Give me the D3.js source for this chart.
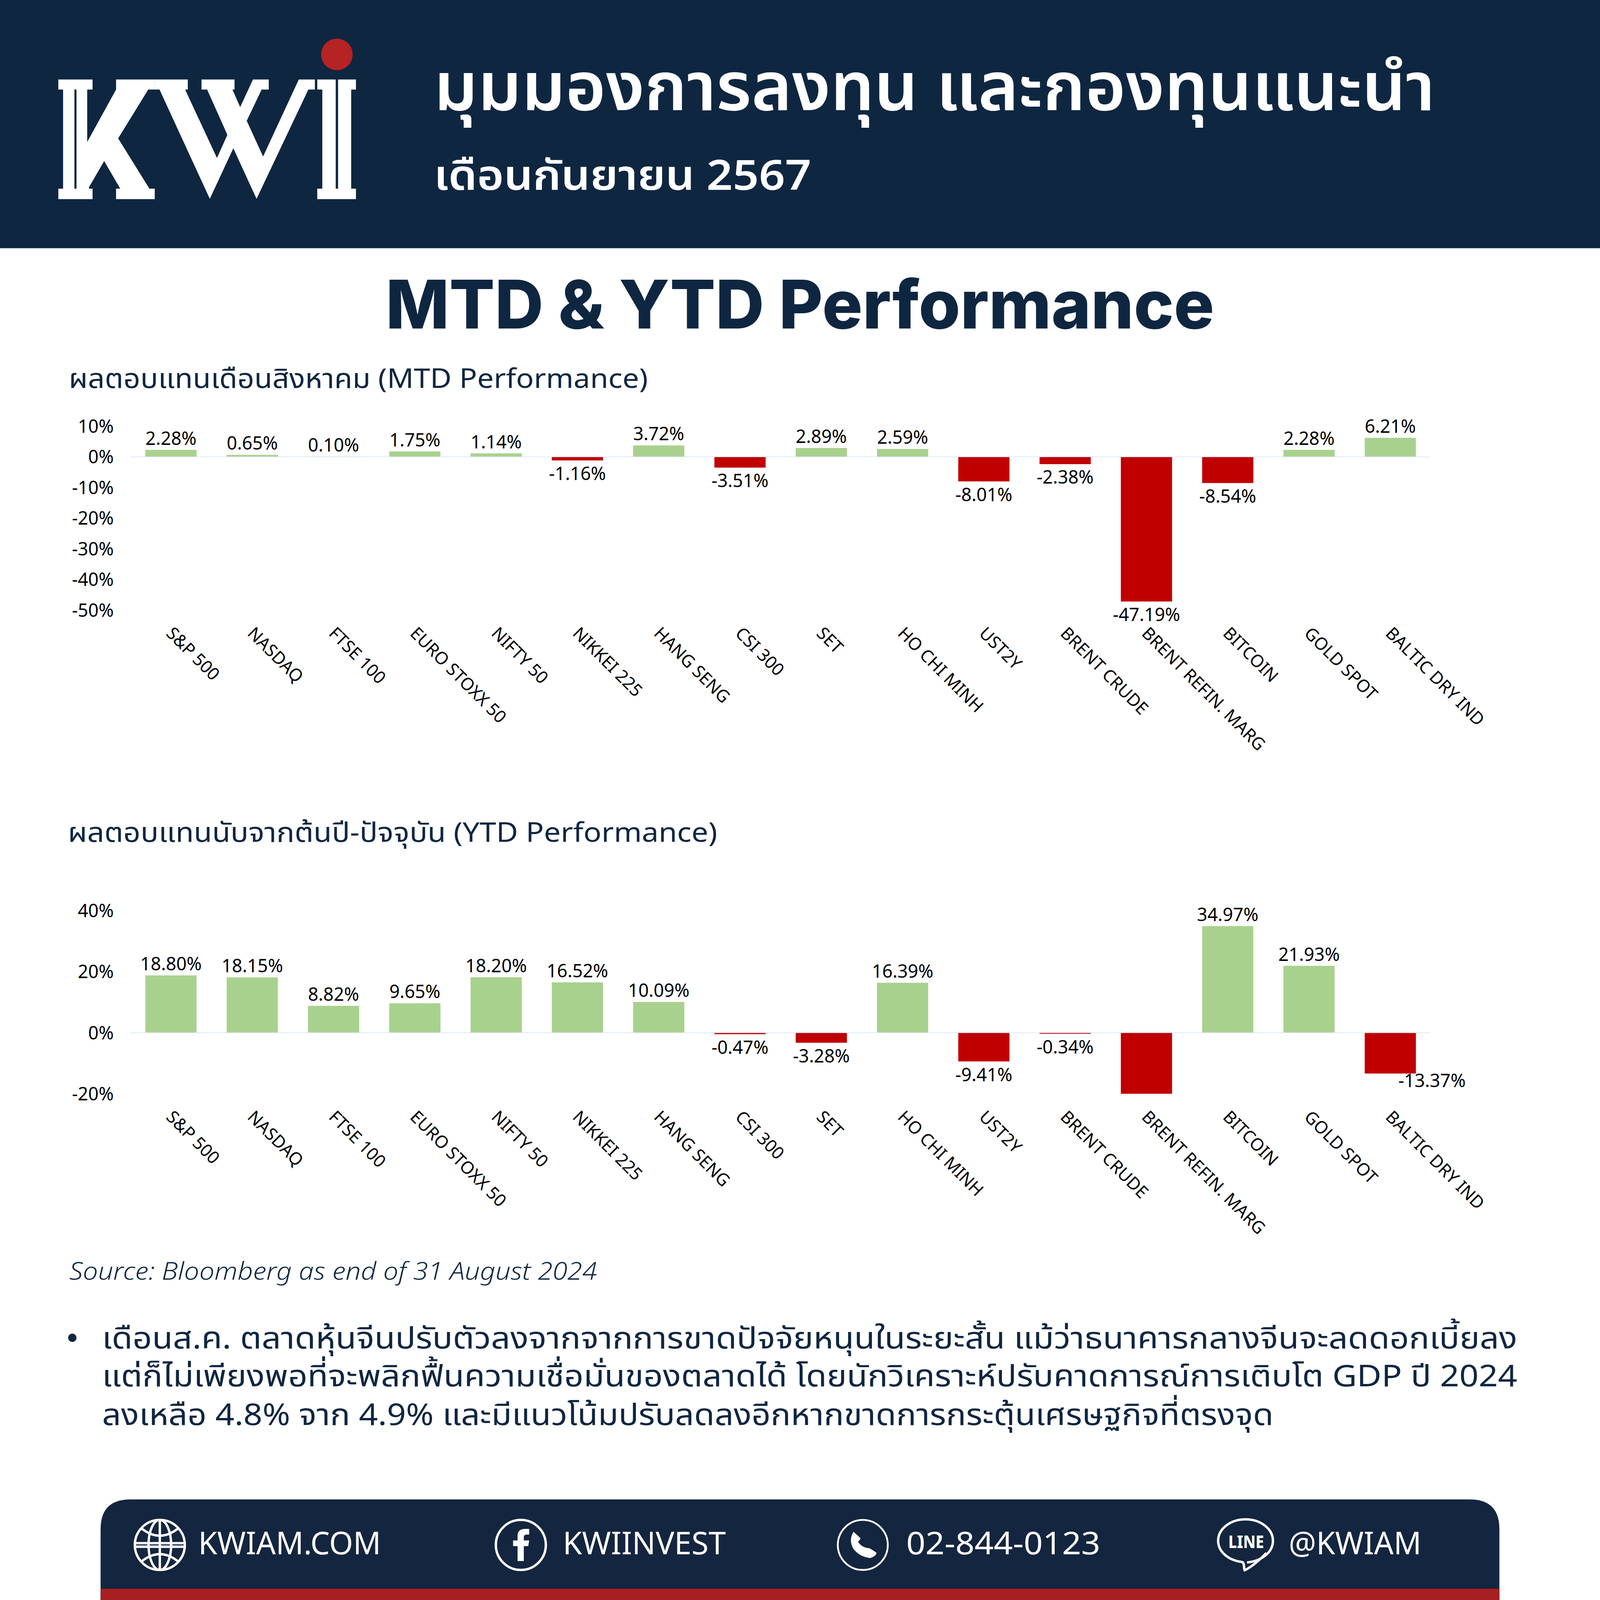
<!DOCTYPE html>
<html>
<head>
<meta charset="utf-8">
<script src="https://cdn.jsdelivr.net/npm/d3@7"></script>
<style>
  html, body { margin: 0; padding: 0; background: #fff; overflow: hidden; }
  svg { display: block; }
  text { font-family: "Noto Sans", "Noto Sans Thai", sans-serif; }
</style>
</head>
<body>
<div class="container"></div>
<script>
const categories = ["S&P 500", "NASDAQ", "FTSE 100", "EURO STOXX 50", "NIFTY 50", "NIKKEI 225", "HANG SENG", "CSI 300",
  "SET", "HO CHI MINH", "UST2Y", "BRENT CRUDE", "BRENT REFIN. MARG", "BITCOIN", "GOLD SPOT", "BALTIC DRY IND"];
const mtdValues = [2.28, 0.65, 0.10, 1.75, 1.14, -1.16, 3.72, -3.51, 2.89, 2.59, -8.01, -2.38, -47.19, -8.54, 2.28, 6.21];
// the refining margin bar runs off the bottom of the YTD axis and has no label in the picture
const ytdValues = [18.80, 18.15, 8.82, 9.65, 18.20, 16.52, 10.09, -0.47, -3.28, 16.39, -9.41, -0.34, -20, 34.97, 21.93, -13.37];
const ytdNoLabel = ["BRENT REFIN. MARG"];
const mtdTicks = [10, 0, -10, -20, -30, -40, -50];
const ytdTicks = [40, 20, 0, -20];

const bodyLines = [
  "เดือนส.ค. ตลาดหุ้นจีนปรับตัวลงจากจากการขาดปัจจัยหนุนในระยะสั้น แม้ว่าธนาคารกลางจีนจะลดดอกเบี้ยลง",
  "แต่ก็ไม่เพียงพอที่จะพลิกฟื้นความเชื่อมั่นของตลาดได้ โดยนักวิเคราะห์ปรับคาดการณ์การเติบโต GDP ปี 2024",
  "ลงเหลือ 4.8% จาก 4.9% และมีแนวโน้มปรับลดลงอีกหากขาดการกระตุ้นเศรษฐกิจที่ตรงจุด",
];

const navy = "#0F2641";
const footerNavy = "#14253F";
const green = "#A9D18E";
const red = "#C00000";

// drawn in reference pixels, viewBox takes care of the window's pixel ratio
var svg = d3.select(".container").append("svg")
  .attr("width", window.innerWidth).attr("height", window.innerHeight)
  .attr("viewBox", "0 0 5376 5376");
svg.append("rect").attr("width", 5376).attr("height", 5376).attr("fill", "#fff");

// text squeezed to the width it has in the reference
let label = (str, x, y, size, width, opts = {}) => {
  let t = svg.append("text")
    .attr("x", x).attr("y", y)
    .attr("font-size", size)
    .attr("fill", opts.fill || navy)
    .attr("font-weight", opts.weight || 400)
    .attr("font-style", opts.style || "normal")
    .text(str);
  if (width) t.attr("textLength", width).attr("lengthAdjust", "spacingAndGlyphs");
  return t;
};

// header
svg.append("rect").attr("width", 5376).attr("height", 834).attr("fill", navy);
let logo = svg.append("g").attr("fill", "#fff");
logo.append("path").attr("fill-rule", "evenodd").attr("d",
  "M196,267H311V301H293V477L390,301H390V267H520V301H498L397,465L502,634H520V669H390V634H404L350,541L299,629V634H311V669H196V634H212V301H196Z" +
  "M250,301H257V634H250Z");
logo.append("path").attr("d",
  "M520,267H631V301H622L729,531L764,453L696,301H677V267H788V301H781L807,360L850,267H903V301H879L829,406L884,526L1004,267H1058V301H1036L862,668L784,498L705,668L536,301H520Z");
logo.append("path").attr("fill-rule", "evenodd").attr("d",
  "M1066,267H1196V301H1180V634H1196V669H1066V634H1083V301H1066Z M1128,267H1136V634H1128Z");
svg.append("ellipse").attr("cx", 1132).attr("cy", 183).attr("rx", 53).attr("ry", 53).attr("fill", "#B62324");

label("มุมมองการลงทุน และกองทุนแนะนำ", 1458, 370, 226, 3364, { fill: "#fff", weight: 600 });
label("เดือนกันยายน 2567", 1458, 638, 140, 1268, { fill: "#fff", weight: 600 });

label("MTD & YTD Performance", 1296, 1104, 225, 2784, { weight: 800 }).style("font-family", "Inter");
label("ผลตอบแทนเดือนสิงหาคม (MTD Performance)", 231, 1303, 92, 1946);
label("ผลตอบแทนนับจากต้นปี-ปัจจุบัน (YTD Performance)", 228, 2829, 92, 2182);

let drawChart = (values, ticks, y0, pxPerPct, noLabel = []) => {
  let x = d3.scaleBand().domain(categories).range([438, 4808]).paddingInner(0.37).paddingOuter(0.185);
  let y = d3.scaleLinear().domain([0, 1]).range([y0, y0 - pxPerPct]);
  let bottom = y(d3.min(ticks));
  let g = svg.append("g");

  let yAxis = d3.axisLeft(y).tickValues(ticks).tickSize(0).tickPadding(56).tickFormat((d) => d + "%");
  g.append("g").attr("transform", "translate(438,2)").call(yAxis)
    .call((a) => a.select(".domain").remove())
    .selectAll("text").attr("font-size", 61).attr("fill", "#000").style("font-family", "Noto Sans");

  let xAxis = d3.axisBottom(x).tickSize(0).tickPadding(0);
  g.append("g").attr("transform", `translate(-5,${bottom + 67})`).call(xAxis)
    .call((a) => a.select(".domain").remove())
    .selectAll("text")
    .attr("font-size", 58).attr("fill", "#000").style("font-family", "Noto Sans")
    .attr("text-anchor", "start").attr("dy", "0.35em").attr("y", 0)
    .attr("transform", "rotate(45)");

  g.selectAll("rect").data(values).enter().append("rect")
    .attr("x", (d, i) => x(categories[i]))
    .attr("width", x.bandwidth())
    .attr("y", (d) => Math.min(y(d), y(0)))
    .attr("height", (d) => Math.abs(y(d) - y(0)))
    .attr("fill", (d) => (d < 0 ? red : green));

  g.append("line").attr("x1", 438).attr("x2", 4808).attr("y1", y(0)).attr("y2", y(0))
    .attr("stroke", "#D6E6F2").attr("stroke-width", 2);

  categories.forEach((c, i) => {
    if (noLabel.includes(c)) return;
    let d = values[i];
    // last YTD label was dragged clear of its bar in the original
    let moved = c == "BALTIC DRY IND" && d < 0;
    g.append("text").attr("class", "val")
      .attr("x", x(c) + x.bandwidth() / 2 + (moved ? 140 : 0))
      .attr("y", y(d) + (moved ? 45 : d < 0 ? 66 : -17))
      .attr("text-anchor", "middle").attr("font-size", 61).attr("fill", "#000")
      .text(d.toFixed(2) + "%");
  });
};

drawChart(mtdValues, mtdTicks, 1535, 10.3);
drawChart(ytdValues, ytdTicks, 3470, 10.25, ytdNoLabel);

label("Source: Bloomberg as end of 31 August 2024", 233, 4300, 82, 1773, { style: "italic", weight: 300 });

// bullet text
svg.append("circle").attr("cx", 243).attr("cy", 4495).attr("r", 14).attr("fill", navy);
label(bodyLines[0], 343, 4531, 100, 4755);
label(bodyLines[1], 343, 4658, 100, 4755);
label(bodyLines[2], 343, 4788, 100, 3936);

// footer
svg.append("path").attr("fill", footerNavy)
  .attr("d", "M338,5376V5138Q338,5038 438,5038H4938Q5038,5038 5038,5138V5376Z");
svg.append("rect").attr("x", 338).attr("y", 5338).attr("width", 4700).attr("height", 38).attr("fill", "#A51F23");

let icons = svg.append("g").attr("fill", "none").attr("stroke", "#fff").attr("stroke-width", 8);
// globe
let globe = icons.append("g").attr("transform", "translate(537,5191)");
globe.append("circle").attr("r", 84);
globe.append("ellipse").attr("rx", 38).attr("ry", 84);
globe.append("line").attr("y1", -84).attr("y2", 84);
globe.append("line").attr("x1", -84).attr("x2", 84).attr("y1", -6).attr("y2", -6);
globe.append("line").attr("x1", -84).attr("x2", 84).attr("y1", 6).attr("y2", 6);
globe.append("path").attr("d", "M-62,-56Q0,-6 62,-56");
globe.append("path").attr("d", "M-62,56Q0,6 62,56");
// facebook
icons.append("circle").attr("cx", 1750).attr("cy", 5191).attr("r", 84);
svg.append("path").attr("fill", "#fff")
  .attr("d", "M1739,5245V5195H1724V5176H1739V5160Q1739,5137 1765,5137H1778V5156H1770Q1760,5156 1760,5164V5176H1778L1775,5195H1760V5245Z");
// phone
icons.append("circle").attr("cx", 2899).attr("cy", 5191).attr("r", 84).attr("stroke-width", 6);
svg.append("path").attr("fill", "#fff")
  .attr("d", "M2868,5147L2891,5168Q2892,5172 2883,5180Q2895,5200 2922,5202L2945,5217Q2945,5228 2925,5235Q2890,5232 2868,5205Q2850,5175 2868,5147Z");
// line bubble
icons.append("path").attr("stroke-width", 8)
  .attr("d", "M4190,5250C4240,5245 4277,5215 4277,5177C4277,5137 4236,5105 4185,5105C4134,5105 4093,5137 4093,5177C4093,5212 4125,5242 4172,5248C4183,5250 4178,5268 4182,5276C4200,5268 4230,5245 4255,5218");
label("LINE", 4127, 5202, 58, 120, { fill: "#fff", weight: 800 }).style("font-family", "Noto Sans");

label("KWIAM.COM", 666, 5223, 106, 614, { fill: "#fff" });
label("KWIINVEST", 1891, 5223, 106, 548, { fill: "#fff" });
label("02-844-0123", 3045, 5223, 106, 652, { fill: "#fff" });
label("@KWIAM", 4330, 5223, 106, 446, { fill: "#fff" });
</script>
</body>
</html>
